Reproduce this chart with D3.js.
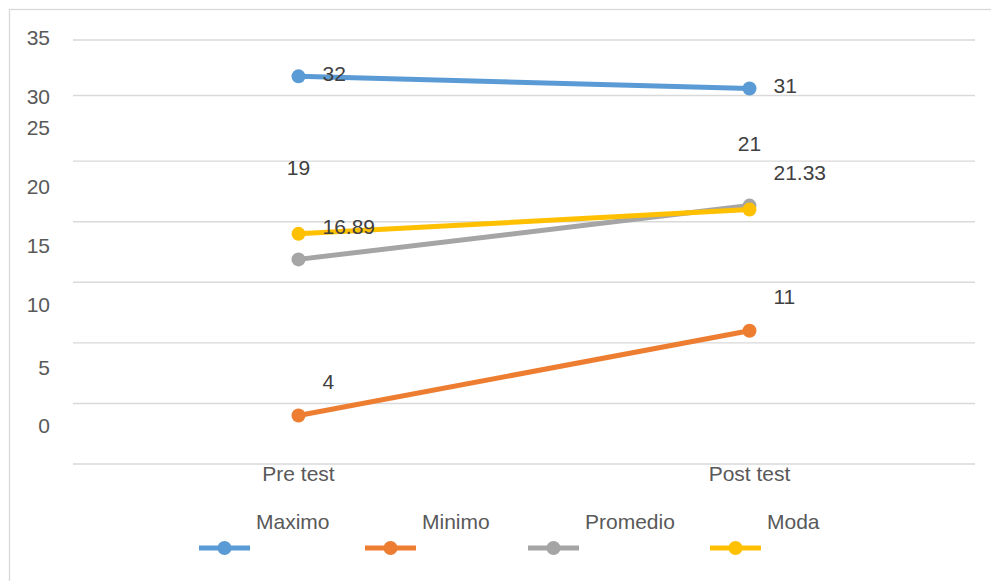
<!DOCTYPE html>
<html><head><meta charset="utf-8">
<script src="https://cdn.jsdelivr.net/npm/d3@7"></script>
<style>body{margin:0;background:#fff} text{font-family:"Liberation Sans",Arial,sans-serif}</style>
</head><body><svg id="c" width="991" height="581"></svg>
<script>
const categories = ["Pre test", "Post test"];
const seriesNames = ["Maximo", "Minimo", "Promedio", "Moda"];
const maximo = [32, 31];
const minimo = [4, 11];
const promedio = [16.89, 21.33];
const moda = [19, 21];
const tickValues = [0, 5, 10, 15, 20, 25, 30, 35];
const seriesValues = [maximo, minimo, promedio, moda];

// styles / layout
const colors = ["#5B9BD5", "#ED7D31", "#A5A5A5", "#FFC000"];
const tickLabelDy = [-39, -36, -38, -37, -35, -34, -4, -3];
const gridDy = [0, 0, 0, 0, 0, 0, -5, 0];
const labelStyle = [
  {dx: 24, dy: -3, anchor: "start"},
  {dx: 24, dy: -34, anchor: "start"},
  {dx: 24, dy: -33, anchor: "start"},
  {dx: 0, dy: -66, anchor: "middle"}
];
const legendStartX = [199, 365, 528, 710];

const svg = d3.select("#c");
const fs = 21;

svg.append("rect").attr("x", 9.5).attr("y", 9.5).attr("width", 990).attr("height", 580)
  .attr("fill", "#fff").attr("stroke", "#d9d9d9").attr("stroke-width", 1.3);

const y = d3.scaleLinear().domain([0, 35]).range([464, 40]);
const x = d3.scalePoint().domain(categories).range([73, 975]).padding(0.5);

// gridlines
svg.append("g").selectAll("line").data(tickValues).join("line")
  .attr("x1", 73).attr("x2", 975)
  .attr("y1", (d, i) => y(d) + gridDy[i]).attr("y2", (d, i) => y(d) + gridDy[i])
  .attr("stroke", "#d9d9d9").attr("stroke-width", 1.4);

// tick labels
svg.append("g").selectAll("text").data(tickValues).join("text")
  .attr("x", 50).attr("y", (d, i) => y(d) + tickLabelDy[i])
  .attr("text-anchor", "end").attr("dominant-baseline", "central")
  .attr("font-size", fs).attr("fill", "#595959").text(d => d);

// category labels
svg.append("g").selectAll("text").data(categories).join("text")
  .attr("x", d => x(d)).attr("y", 473)
  .attr("text-anchor", "middle").attr("dominant-baseline", "central")
  .attr("font-size", fs).attr("fill", "#595959").text(d => d);

const line = d3.line().x((d, i) => x(categories[i])).y(d => y(d));

seriesValues.forEach((vals, s) => {
  const g = svg.append("g");
  g.append("path").attr("d", line(vals)).attr("fill", "none")
    .attr("stroke", colors[s]).attr("stroke-width", 5).attr("stroke-linecap", "round");
  g.selectAll("circle").data(vals).join("circle")
    .attr("cx", (d, i) => x(categories[i])).attr("cy", d => y(d)).attr("r", 7)
    .attr("fill", colors[s]);
});

seriesValues.forEach((vals, s) => {
  const st = labelStyle[s];
  svg.append("g").selectAll("text").data(vals).join("text")
    .attr("x", (d, i) => x(categories[i]) + st.dx).attr("y", d => y(d) + st.dy)
    .attr("text-anchor", st.anchor).attr("dominant-baseline", "central")
    .attr("font-size", fs).attr("fill", "#404040").text(d => d);
});

// legend
const leg = svg.append("g");
seriesNames.forEach((n, i) => {
  const g = leg.append("g").attr("transform", `translate(${legendStartX[i]},0)`);
  g.append("line").attr("x1", 0).attr("x2", 51).attr("y1", 548).attr("y2", 548)
    .attr("stroke", colors[i]).attr("stroke-width", 5);
  g.append("circle").attr("cx", 25.5).attr("cy", 548).attr("r", 7).attr("fill", colors[i]);
  g.append("text").attr("x", 57).attr("y", 521).attr("dominant-baseline", "central")
    .attr("font-size", fs).attr("fill", "#595959").text(n);
});
</script>
</body></html>
